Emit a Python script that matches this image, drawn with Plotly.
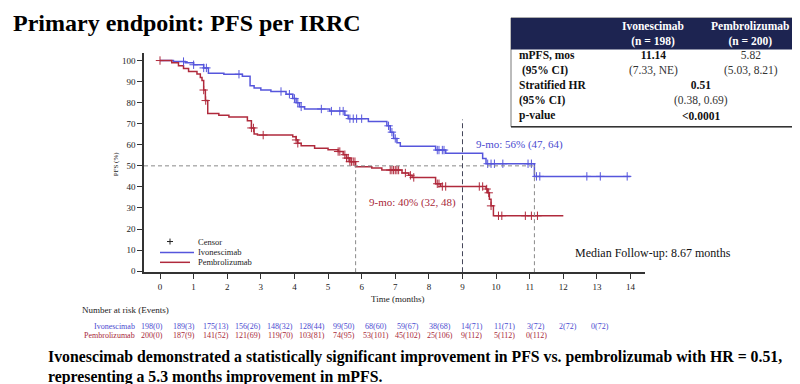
import bisect
import plotly.graph_objects as go

W, H = 800, 384

# ---------------- data ----------------
months = list(range(0, 15))

ivo_t = [0, 0.4, 0.75, 1.0, 1.3, 1.44, 1.9, 2.45, 2.68, 2.8, 3.0, 3.3, 3.75, 3.95,
         4.05, 4.15, 4.3, 5.05, 5.5, 5.6, 6.2, 6.75, 6.85, 6.95, 7.05, 7.15, 8.2,
         8.5, 9.6, 9.7, 11.14, 14.0]
ivo_s = [100, 99.5, 99, 98, 96.5, 94, 93.5, 92.5, 88, 87, 86, 85.3, 84, 82,
         80, 78, 77, 76, 74, 72.4, 71, 69, 66, 63, 61, 59.3, 57.5,
         56, 53.5, 51, 45, 45]
ivo_cens_t = [0.7, 1.0, 1.3, 1.38, 2.35, 3.6, 3.85, 4.0, 4.1, 4.2, 4.8, 5.1, 5.35,
              5.45, 5.65, 5.75, 5.85, 6.0, 6.8, 6.9, 7.0, 8.25, 8.3, 8.4, 8.45,
              9.75, 9.85, 9.95, 10.2, 10.95, 11.05, 11.2, 11.3, 12.7, 13.1, 13.9]

pem_t = [0, 0.35, 0.55, 0.7, 0.85, 1.1, 1.2, 1.25, 1.3, 1.35, 1.42, 1.75, 2.05,
         2.6, 2.72, 2.8, 2.9, 3.95, 4.05, 4.1, 4.2, 4.6, 5.0, 5.3, 5.45, 5.55,
         5.65, 5.82, 6.3, 6.6, 7.2, 7.4, 7.5, 8.2, 8.35, 9.7, 9.75, 9.8, 9.85,
         9.92, 12.0]
pem_s = [100, 99, 97.5, 96.2, 94.8, 93.6, 92, 90.5, 86, 81, 74.8, 74, 73.2,
         71.4, 68, 65.1, 64.6, 63.8, 62.3, 60.7, 59.5, 58.4, 57.6, 56.8, 55.3, 53.7,
         52, 49.6, 49, 48, 46.6, 45.5, 44.5, 41.5, 40.2, 39, 37.2, 34.1, 31,
         26.3, 26.3]
pem_cens_t = [0, 1.3, 1.36, 2.72, 2.78, 3.07, 4.05, 4.1, 5.3, 5.35, 5.5, 5.55, 5.6,
              5.65, 5.7, 5.75, 5.8, 6.85, 6.9, 6.95, 7.0, 7.05, 7.1, 7.3, 7.45,
              7.55, 8.25, 8.3, 8.4, 8.5, 9.5, 9.6, 9.72, 9.78, 9.85, 10.07, 10.17,
              10.87, 11.05, 11.23]

risk_ivo = ["198(0)", "189(3)", "175(13)", "156(26)", "148(32)", "128(44)", "99(50)",
            "68(60)", "59(67)", "38(68)", "14(71)", "11(71)", "3(72)", "2(72)", "0(72)"]
risk_pem = ["200(0)", "187(9)", "141(52)", "121(69)", "119(70)", "103(81)", "74(95)",
            "53(101)", "45(102)", "25(106)", "9(112)", "5(112)", "0(112)"]

median_ivo = 11.14
median_pem = 5.82
landmark = 9
landmark_line_top = 72
y_ticks = list(range(0, 101, 10))

# ---------------- style ----------------
BLUE = "#5656dc"
RED = "#b02a3c"
BLUE_TXT = "#4a4ad0"
RED_TXT = "#a8283a"
SERIF = "Liberation Serif"
NAVY = "#1d2451"

X0, X1 = 136, 637      # plot area px
Y0, Y1 = 45, 267
RISK_X0, RISK_DX = 144, 32   # at-risk column layout (px)


def px(x):
    return x / W


def py(y):
    return 1 - y / H


def surv_at(t, ts, ss):
    i = bisect.bisect_right(ts, t) - 1
    return ss[max(i, 0)]


fig = go.Figure()

fig.add_trace(go.Scatter(x=ivo_t, y=ivo_s, mode="lines",
                         line=dict(shape="hv", color=BLUE, width=1.5),
                         showlegend=False, hoverinfo="skip"))
fig.add_trace(go.Scatter(x=pem_t, y=pem_s, mode="lines",
                         line=dict(shape="hv", color=RED, width=1.5),
                         showlegend=False, hoverinfo="skip"))
fig.add_trace(go.Scatter(x=ivo_cens_t, y=[surv_at(t, ivo_t, ivo_s) for t in ivo_cens_t],
                         mode="markers",
                         marker=dict(symbol="cross-thin", size=6, line=dict(width=1, color=BLUE)),
                         showlegend=False, hoverinfo="skip"))
fig.add_trace(go.Scatter(x=pem_cens_t, y=[surv_at(t, pem_t, pem_s) for t in pem_cens_t],
                         mode="markers",
                         marker=dict(symbol="cross-thin", size=6, line=dict(width=1, color=RED)),
                         showlegend=False, hoverinfo="skip"))

xr = [-0.476, 14.43]
yr = [-0.5, 103.8]

shapes = []
# reference lines
shapes.append(dict(type="line", xref="x", yref="y", x0=xr[0], x1=median_ivo, y0=50, y1=50,
                   line=dict(color="#8a8a8a", width=1, dash="4px,3px")))
for m in (median_pem, median_ivo):
    shapes.append(dict(type="line", xref="x", yref="y", x0=m, x1=m, y0=yr[0], y1=50,
                       line=dict(color="#8a8a8a", width=1, dash="4px,3px")))
shapes.append(dict(type="line", xref="x", yref="y", x0=landmark, x1=landmark, y0=yr[0],
                   y1=landmark_line_top, line=dict(color="#44465a", width=1, dash="5px,3px")))

# legend
shapes.append(dict(type="line", xref="paper", yref="paper", x0=px(159), x1=px(165),
                   y0=py(236), y1=py(236), line=dict(color="#222", width=1)))
shapes.append(dict(type="line", xref="paper", yref="paper", x0=px(162), x1=px(162),
                   y0=py(233), y1=py(239), line=dict(color="#222", width=1)))
shapes.append(dict(type="line", xref="paper", yref="paper", x0=px(152), x1=px(186),
                   y0=py(247), y1=py(247), line=dict(color=BLUE, width=1.5)))
shapes.append(dict(type="line", xref="paper", yref="paper", x0=px(152), x1=px(182),
                   y0=py(257), y1=py(257), line=dict(color=RED, width=1.5)))

# table
shapes.append(dict(type="rect", xref="paper", yref="paper", x0=px(503), x1=px(797),
                   y0=py(120), y1=py(10), line=dict(color="#555", width=0.8),
                   fillcolor="white"))
shapes.append(dict(type="rect", xref="paper", yref="paper", x0=px(503), x1=px(797),
                   y0=py(42), y1=py(10), line=dict(width=0), fillcolor=NAVY))
shapes.append(dict(type="line", xref="paper", yref="paper", x0=px(503), x1=px(797),
                   y0=py(120), y1=py(120), line=dict(color="#333", width=1.5)))

ann = []


def A(x, y, text, size, color="#111", xanchor="left", bold=False, align=None, **kw):
    t = f"<b>{text}</b>" if bold else text
    d = dict(x=px(x), y=py(y), xref="paper", yref="paper", text=t, showarrow=False,
             xanchor=xanchor, yanchor="middle",
             font=dict(family=SERIF, size=size, color=color), **kw)
    d["align"] = align or ("left" if xanchor == "left" else
                           "right" if xanchor == "right" else "center")
    ann.append(d)


A(3, 15, "Primary endpoint: PFS per IRRC", 24, "#000", bold=True)

# table text
A(645, 26, "<b>Ivonescimab<br>(n = 198)</b>", 11.5, "white", "center")
A(742, 26, "<b>Pembrolizumab<br>(n = 200)</b>", 11.5, "white", "center")
A(509, 56, "<b>mPFS, mos<br>\u00a0(95% CI)</b>", 11.5, "#111")
A(645, 56, "<b>11.14</b><br><span style='color:#333'>(7.33, NE)</span>", 11.5, "#111", "center")
A(743, 56, "5.82<br>(5.03, 8.21)", 11.5, "#333", "center")
A(509, 86, "<b>Stratified HR<br>(95% CI)</b>", 11.5, "#111")
A(693, 86, "<b>0.51</b><br><span style='color:#333'>(0.38, 0.69)</span>", 11.5, "#111", "center")
A(509, 109, "p-value", 11.5, "#111", bold=True)
A(693, 109, "<0.0001", 11.5, "#111", "center", bold=True)

# in-plot labels
A(511, 138, "9-mo: 56% (47, 64)", 11, BLUE_TXT, "center")
A(404, 197, "9-mo: 40% (32, 48)", 11, RED_TXT, "center")
A(645, 248, "Median Follow-up: 8.67 months", 12, "#111", "center")

# legend text
A(188, 236, "Censor", 8.5, "#222")
A(188, 247, "Ivonescimab", 8.5, "#222")
A(188, 257, "Pembrolizumab", 8.5, "#222")

# axis titles
ann.append(dict(x=px(108), y=py(158), xref="paper", yref="paper", text="PFS (%)",
                showarrow=False, textangle=-90, xanchor="center", yanchor="middle",
                font=dict(family=SERIF, size=7, color="#222")))
A(389, 294, "Time (months)", 9, "#222", "center")

# number at risk
A(72, 305, "Number at risk (Events)", 9, "#222")
A(129, 322, "Ivonescimab", 8, BLUE_TXT, "right")
A(129, 331, "Pembrolizumab", 8, RED_TXT, "right")
for i, v in enumerate(risk_ivo):
    A(RISK_X0 + RISK_DX * months[i], 322, v, 8, BLUE_TXT, "center")
for i, v in enumerate(risk_pem):
    A(RISK_X0 + RISK_DX * months[i], 331, v, 8, RED_TXT, "center")

# bottom message
A(38, 353, "Ivonescimab demonstrated a statistically significant improvement in PFS vs. "
           "pembrolizumab with HR = 0.51,", 15.8, "#000", bold=True)
A(38, 373, "representing a 5.3 months improvement in mPFS.", 15.8, "#000", bold=True)

axis_common = dict(showgrid=False, zeroline=False, showline=True, linecolor="#333",
                   linewidth=1.5, ticks="outside", ticklen=5, tickwidth=1, tickcolor="#333",
                   tickfont=dict(family=SERIF, size=9, color="#222"), fixedrange=True)

fig.update_layout(
    width=W, height=H, margin=dict(l=0, r=0, t=0, b=0),
    paper_bgcolor="white", plot_bgcolor="white",
    xaxis=dict(domain=[px(X0), px(X1)], range=xr, tickvals=months, **axis_common),
    yaxis=dict(domain=[py(Y1), py(Y0)], range=yr, tickvals=y_ticks, **axis_common),
    shapes=shapes, annotations=ann, showlegend=False,
)

fig.write_html("out.html")
